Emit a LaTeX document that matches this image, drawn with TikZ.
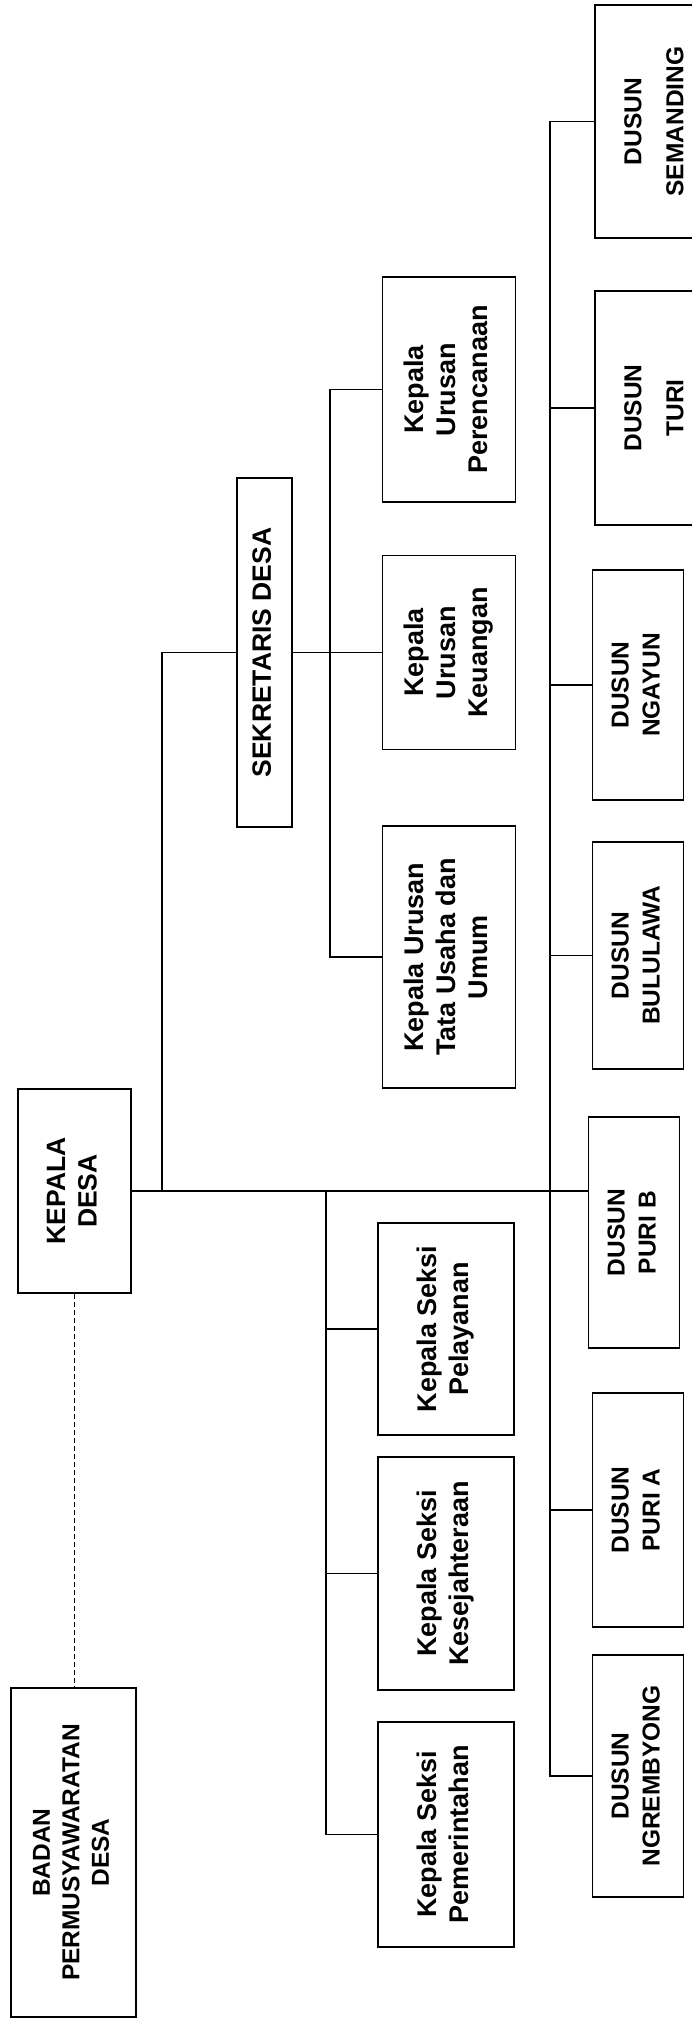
\documentclass[tikz,border=0pt]{standalone}
\usepackage{fontspec}
\setmainfont{Liberation Sans}
\usepackage{graphicx}

\newcommand{\vtxt}[1]{\rotatebox{90}{\begin{tabular}{@{}c@{}}#1\end{tabular}}}

\begin{document}
\begin{tikzpicture}[x=1pt, y=-1pt,
  box/.style 2 args={draw, line width=1.8pt, minimum width=#1pt, minimum height=#2pt, inner sep=0pt,
    font=\fontsize{27}{32}\selectfont\bfseries},
  caps/.style={font=\fontsize{26.5}{31.5}\selectfont\bfseries},
  dusun/.style={box={91}{#1}, font=\fontsize{24.5}{31}\selectfont\bfseries},
  every path/.style={line width=1.6pt}]

\useasboundingbox (0,0) rectangle (691,2019);

% kepala desa dan BPD
\node[box={113}{204}, caps] (kd) at (74.5,1191) {\vtxt{KEPALA\\DESA}};
\node[box={125}{329}, font=\fontsize{24.5}{29.5}\selectfont\bfseries] (bpd) at (73.5,1852.5)
  {\vtxt{BADAN\\PERMUSYAWARATAN\\DESA}};

% sekretaris dan urusan
\node[box={55}{349}, caps] (sd) at (264.5,652.5) {\vtxt{SEKRETARIS DESA}};
\node[box={133}{225}] (kup) at (449,389.5) {\vtxt{Kepala\\Urusan\\Perencanaan}};
\node[box={133}{194}] (kuk) at (449,652.5) {\vtxt{Kepala\\Urusan\\Keuangan}};
\node[box={133}{262}] (kut) at (449,957) {\vtxt{Kepala Urusan\\Tata Usaha dan\\Umum}};

% seksi
\node[box={136}{212}] (kspel) at (446,1329) {\vtxt{Kepala Seksi\\Pelayanan}};
\node[box={136}{233}] (kskes) at (446,1573.5) {\vtxt{Kepala Seksi\\Kesejahteraan}};
\node[box={136}{225}] (kspem) at (446,1834.5) {\vtxt{Kepala Seksi\\Pemerintahan}};

% dusun
\node[dusun=233, minimum width=118pt, font=\fontsize{24.5}{42}\selectfont\bfseries] (semanding) at (654,121.5)
  {\vtxt{DUSUN\\SEMANDING}};
\node[dusun=234, minimum width=118pt, font=\fontsize{24.5}{42}\selectfont\bfseries] (turi) at (654,408)
  {\vtxt{DUSUN\\TURI}};
\node[dusun=230] (ngayun) at (638,685) {\vtxt{DUSUN\\NGAYUN}};
\node[dusun=227] (bululawa) at (638,955.5) {\vtxt{DUSUN\\BULULAWA}};
\node[dusun=231] (purib) at (634,1232.5) {\vtxt{DUSUN\\PURI B}};
\node[dusun=234] (puria) at (638,1510) {\vtxt{DUSUN\\PURI A}};
\node[dusun=242] (ngrembyong) at (638,1776) {\vtxt{DUSUN\\NGREMBYONG}};

\coordinate (kbus) at (162,0);
\coordinate (ubus) at (330,0);
\coordinate (sbus) at (326,0);
\coordinate (dbus) at (550,0);

\draw[line width=1.6pt, dash pattern=on 5pt off 3pt] (kd.south) -- (kd.south |- bpd.north);
\draw (kd.east) -- (kd.east -| purib.west);
\draw (kd.east -| kbus) |- (sd.west);
\draw (sd.east) -- (kuk.west);
\draw (kup.west) -- (kup.west -| ubus) |- (kut.west);
\draw (kd.east -| sbus) |- (kspem.west);
\draw (kspel.west) -- (kspel.west -| sbus);
\draw (kskes.west) -- (kskes.west -| sbus);
\draw (semanding.west) -- (semanding.west -| dbus) |- (ngrembyong.west);
\foreach \d in {turi,ngayun,bululawa,puria}
  \draw (\d.west) -- (\d.west -| dbus);

\end{tikzpicture}
\end{document}
